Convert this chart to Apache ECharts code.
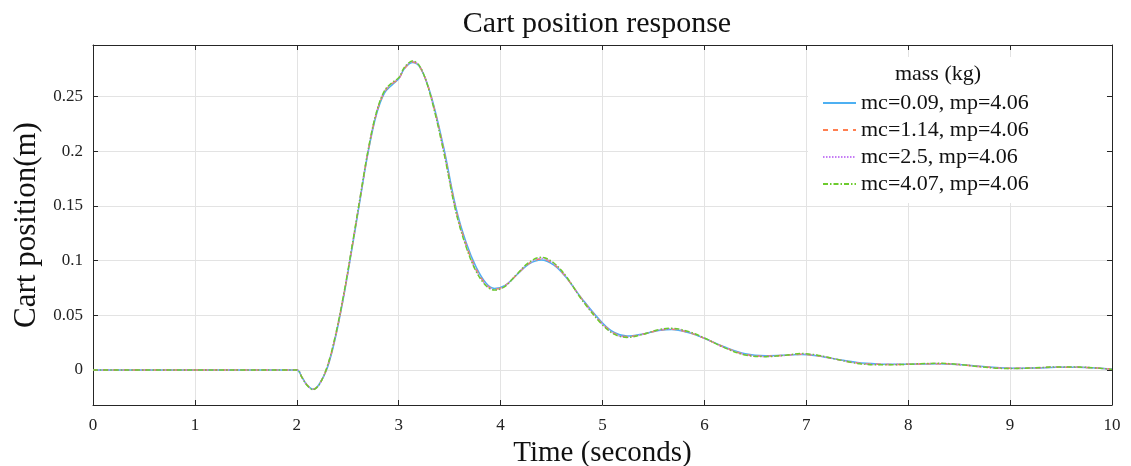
<!DOCTYPE html>
<html>
<head>
<meta charset="utf-8">
<script src="https://cdn.jsdelivr.net/npm/echarts@6/dist/echarts.min.js"></script>
<style>
  html, body { margin: 0; padding: 0; background: #fff; }
  #main { width: 1131px; height: 466px; }
</style>
</head>
<body>
<div id="main"></div>
<script>
// time (s)
const timeList = [0, 2.0, 2.05, 2.1, 2.16, 2.22, 2.3, 2.38, 2.46, 2.54, 2.62, 2.7, 2.78, 2.86, 2.94, 3.0, 3.06, 3.14, 3.22, 3.32,
  3.44, 3.56, 3.66, 3.76, 3.86, 3.94, 4.04, 4.16, 4.28, 4.4, 4.52, 4.64, 4.8, 5.0, 5.12, 5.24, 5.4, 5.55, 5.68, 5.85,
  6.0, 6.2, 6.4, 6.6, 6.8, 6.95, 7.1, 7.3, 7.5, 7.7, 7.9, 8.1, 8.3, 8.5, 8.7, 8.9, 9.05, 9.25, 9.45, 9.65, 9.85, 10]

// cart position (m) for each mass set
const mc009List = [0, 0, -0.0065, -0.0135, -0.0175, -0.013, 0.002, 0.03, 0.067, 0.11, 0.155, 0.199, 0.233, 0.253, 0.261, 0.266, 0.276, 0.281, 0.275, 0.25,
  0.204, 0.149, 0.117, 0.094, 0.079, 0.0745, 0.077, 0.087, 0.097, 0.1005, 0.096, 0.085, 0.065, 0.043, 0.034, 0.031, 0.033, 0.036, 0.037, 0.034,
  0.029, 0.021, 0.0148, 0.013, 0.0135, 0.0142, 0.013, 0.0098, 0.0068, 0.0055, 0.0052, 0.0054, 0.0057, 0.0049, 0.0034, 0.0021, 0.0016, 0.0019, 0.0024, 0.0025, 0.0019, 0.0008]
const mc114List = [0, 0, -0.0066, -0.0137, -0.0177, -0.0132, 0.003, 0.031, 0.068, 0.111, 0.156, 0.2, 0.234, 0.254, 0.262, 0.266, 0.276, 0.2815, 0.275, 0.249,
  0.202, 0.147, 0.115, 0.092, 0.078, 0.0738, 0.0768, 0.0872, 0.0975, 0.1015, 0.0968, 0.0852, 0.0645, 0.0422, 0.0333, 0.0305, 0.0328, 0.0362, 0.0373, 0.0342,
  0.0289, 0.0206, 0.0142, 0.0126, 0.0134, 0.0144, 0.0132, 0.0097, 0.0064, 0.0052, 0.0051, 0.0055, 0.0058, 0.0049, 0.0032, 0.0019, 0.0015, 0.0019, 0.0025, 0.0025, 0.0018, 0.0007]
const mc25List = [0, 0, -0.0066, -0.0138, -0.0178, -0.0133, 0.0032, 0.0315, 0.0685, 0.1115, 0.1565, 0.2005, 0.2345, 0.2545, 0.2625, 0.2665, 0.2765, 0.282, 0.2752, 0.2485,
  0.201, 0.146, 0.114, 0.091, 0.0775, 0.0734, 0.0765, 0.0873, 0.0978, 0.102, 0.0972, 0.0855, 0.0642, 0.0418, 0.033, 0.0302, 0.0327, 0.0364, 0.0376, 0.0345,
  0.029, 0.0204, 0.014, 0.0124, 0.0134, 0.0146, 0.0134, 0.0097, 0.0062, 0.005, 0.005, 0.0056, 0.0059, 0.005, 0.0031, 0.0017, 0.0014, 0.0019, 0.0026, 0.0026, 0.0018, 0.0006]
const mc407List = [0, 0, -0.0067, -0.014, -0.018, -0.0134, 0.0035, 0.032, 0.069, 0.112, 0.157, 0.201, 0.235, 0.255, 0.263, 0.267, 0.277, 0.2825, 0.2755, 0.248,
  0.2, 0.145, 0.113, 0.09, 0.0768, 0.073, 0.0762, 0.0875, 0.0985, 0.103, 0.098, 0.086, 0.0638, 0.0412, 0.0325, 0.0298, 0.0326, 0.0368, 0.0381, 0.0349,
  0.0292, 0.0202, 0.0137, 0.0122, 0.0135, 0.015, 0.0137, 0.0097, 0.006, 0.0048, 0.0049, 0.0057, 0.0061, 0.0051, 0.003, 0.0015, 0.0013, 0.002, 0.0027, 0.0027, 0.0018, 0.0005]

const seriesNames = ['mc=0.09, mp=4.06', 'mc=1.14, mp=4.06', 'mc=2.5, mp=4.06', 'mc=4.07, mp=4.06']
const yTickValues = [0, 0.05, 0.1, 0.15, 0.2, 0.25]

const serif = 'Liberation Serif'
const axisColor = '#262626'

let chartDom = document.getElementById('main')
let myChart = echarts.init(chartDom)
let option

function pairs (values) {
  return timeList.map((t, i) => [t, values[i]])
}

function makeLine (name, values, color, type) {
  return {
    name: name,
    type: 'line',
    xAxisIndex: 0,
    yAxisIndex: 0,
    smooth: 0.35,
    showSymbol: false,
    symbol: 'none',
    lineStyle: { color: color, width: 1.5, type: type },
    itemStyle: { color: color },
    data: pairs(values)
  }
}

const xBase = {
  type: 'value',
  min: 0,
  max: 10,
  interval: 1,
  axisLine: { onZero: false, lineStyle: { color: axisColor, width: 1 } },
  axisTick: { inside: true, length: 5, lineStyle: { color: axisColor } }
}

const yBase = {
  type: 'value',
  min: -0.032,
  max: 0.297,
  axisLine: { show: true, onZero: false, lineStyle: { color: axisColor, width: 1 } },
  axisTick: { show: true, inside: true, length: 5, customValues: yTickValues, lineStyle: { color: axisColor } }
}

option = {
  backgroundColor: '#fff',
  animation: false,
  title: [
    {
      text: 'Cart position response',
      left: 592,
      top: 4,
      textAlign: 'center',
      textStyle: { fontFamily: serif, fontSize: 30, fontWeight: 'normal', color: '#111' }
    },
    {
      text: 'mass (kg)',
      left: 933,
      top: 58,
      textAlign: 'center',
      textStyle: { fontFamily: serif, fontSize: 22, fontWeight: 'normal', color: '#111' }
    }
  ],
  legend: {
    orient: 'vertical',
    left: 808,
    top: 57,
    padding: [35, 78, 8, 14],
    backgroundColor: '#fff',
    itemWidth: 33,
    itemHeight: 2,
    itemGap: 5,
    itemStyle: { opacity: 0 },
    textStyle: { fontFamily: serif, fontSize: 22, color: '#111' },
    data: seriesNames
  },
  grid: {
    left: 93,
    right: 19,
    top: 45,
    bottom: 61,
    outerBoundsMode: 'none'
  },
  xAxis: [
    Object.assign({}, xBase, {
      position: 'bottom',
      name: 'Time (seconds)',
      nameLocation: 'middle',
      nameGap: 25,
      nameTextStyle: { fontFamily: serif, fontSize: 29, color: '#111' },
      axisLabel: { fontFamily: serif, fontSize: 17, color: '#222', margin: 12 },
      splitLine: { show: true, lineStyle: { color: '#e3e3e3', width: 1 } }
    }),
    Object.assign({}, xBase, {
      position: 'top',
      axisLabel: { show: false },
      splitLine: { show: false }
    })
  ],
  yAxis: [
    Object.assign({}, yBase, {
      position: 'left',
      name: 'Cart position(m)',
      nameLocation: 'middle',
      nameGap: 48,
      nameTextStyle: { fontFamily: serif, fontSize: 31, color: '#111' },
      axisLabel: { fontFamily: serif, fontSize: 17, color: '#222', margin: 10, customValues: yTickValues },
      splitLine: { show: true, lineStyle: { color: '#e3e3e3', width: 1 } }
    }),
    Object.assign({}, yBase, {
      position: 'right',
      axisLabel: { show: false },
      splitLine: { show: false }
    })
  ],
  series: [
    makeLine(seriesNames[0], mc009List, '#4DB0F2', 'solid'),
    makeLine(seriesNames[1], mc114List, '#FF7F50', [5, 5]),
    makeLine(seriesNames[2], mc25List, '#C57CF5', [1.5, 1.5]),
    makeLine(seriesNames[3], mc407List, '#6CCB2D', [5, 2, 1.5, 2])
  ]
}

option && myChart.setOption(option)
</script>
</body>
</html>
